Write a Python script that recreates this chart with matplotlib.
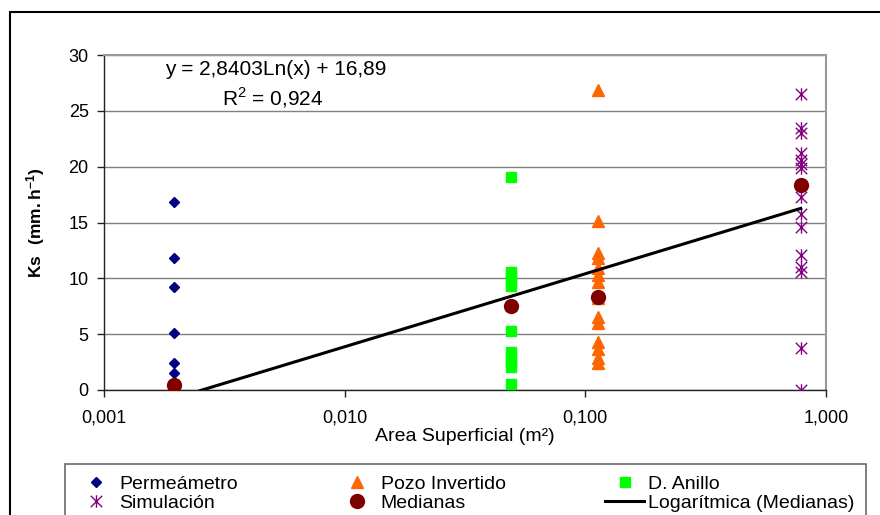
#!/usr/bin/env python3
"""Ks vs. area superficial, por método de medición, con tendencia logarítmica de medianas."""

import numpy as np
import matplotlib
matplotlib.use("Agg")
import matplotlib.pyplot as plt
from matplotlib.path import Path
from matplotlib.patches import Rectangle

plt.rcParams["font.family"] = ["Liberation Sans", "DejaVu Sans"]
plt.rcParams["mathtext.fontset"] = "custom"
plt.rcParams["mathtext.rm"] = "Liberation Sans"
plt.rcParams["mathtext.bf"] = "Liberation Sans:bold"

# area superficial (m2) de cada método
area_perm = 0.00196
area_anillo = 0.049
area_pozo = 0.113
area_sim = 0.785

ks_perm = [16.8, 11.85, 9.2, 5.1, 2.45, 1.5, 0.0]
ks_pozo = [26.9, 15.1, 12.3, 11.8, 10.9, 10.3, 9.7, 8.2, 6.5, 6.0, 4.3, 3.7, 2.9, 2.4]
ks_anillo = [19.1, 10.6, 10.2, 9.8, 9.3, 7.5, 5.3, 3.4, 2.9, 2.5, 2.1, 0.5]
ks_sim = [26.5, 23.5, 23.0, 21.2, 20.6, 20.2, 19.9, 17.3, 15.8, 14.6, 12.1, 11.0, 10.6, 3.8, 0.0]

med_area = [area_perm, area_anillo, area_pozo, area_sim]
med_ks = [0.45, 7.5, 8.3, 18.4]

x_ticks = [0.001, 0.01, 0.1, 1.0]
x_labels = ["0,001", "0,010", "0,100", "1,000"]
y_ticks = [0, 5, 10, 15, 20, 25, 30]

W, H = 880, 515
FS = 13
fig = plt.figure(figsize=(W / 100, H / 100), dpi=100)
ax = fig.add_axes([104 / W, 1 - 390 / H, (826 - 104) / W, (390 - 55) / H])

# asterisco estilo Excel: x con barra vertical
star = Path([(-1, -1), (1, 1), (-1, 1), (1, -1), (0, -1.1), (0, 1.1)],
            [Path.MOVETO, Path.LINETO, Path.MOVETO, Path.LINETO, Path.MOVETO, Path.LINETO])

h_perm, = ax.plot([area_perm] * len(ks_perm), ks_perm, ls="none", marker="D", ms=5.5,
                  color="#000080", label="Permeámetro", zorder=3)
h_pozo, = ax.plot([area_pozo] * len(ks_pozo), ks_pozo, ls="none", marker="^", ms=9,
                  color="#FF6600", mec="#FF6600", label="Pozo Invertido", zorder=3)
h_anillo, = ax.plot([area_anillo] * len(ks_anillo), ks_anillo, ls="none", marker="s", ms=7,
                    color="#00FF00", label="D. Anillo", zorder=3)
h_sim, = ax.plot([area_sim] * len(ks_sim), ks_sim, ls="none", marker=star, ms=9, mew=1,
                 color="#800080", label="Simulación", zorder=3)
h_med, = ax.plot(med_area, med_ks, ls="none", marker="o", ms=10,
                 color="#800000", label="Medianas", zorder=4)

# tendencia logarítmica ajustada a las medianas
slope, intercept = np.polyfit(np.log(med_area), med_ks, 1)
xs = np.logspace(np.log10(min(med_area)), np.log10(max(med_area)), 200)
h_log, = ax.plot(xs, slope * np.log(xs) + intercept, color="black", lw=2.2,
                 label="Logarítmica (Medianas)", zorder=3)

ax.set_xscale("log")
ax.set_xlim(0.001, 1.0)
ax.set_ylim(0, 30)
ax.set_xticks(x_ticks)
ax.set_xticklabels(x_labels)
ax.xaxis.set_minor_locator(plt.NullLocator())
ax.set_yticks(y_ticks)
ax.tick_params(axis="both", direction="out", length=5, width=1, labelsize=FS, color="#222")
ax.tick_params(axis="x", pad=9)
ax.tick_params(axis="y", pad=6)
ax.grid(axis="y", color="#808080", lw=1)
for side in ("top", "right"):
    ax.spines[side].set_color("#999999")
    ax.spines[side].set_linewidth(1.5)
for side in ("left", "bottom"):
    ax.spines[side].set_color("#222222")
    ax.spines[side].set_linewidth(1)
ax.set_axisbelow(True)

ax.set_xlabel("Area Superficial (m²)", fontsize=14, labelpad=1)
ax.set_ylabel(r"$\mathbf{Ks\ \ (mm.h^{-1})}$", fontsize=12.5)
ax.yaxis.set_label_coords(-(104 - 47) / (826 - 104), 0.5)

fig.text(165 / W, 1 - 70 / H, "y = 2,8403Ln(x) + 16,89", fontsize=15, va="center")
fig.text(222 / W, 1 - 98 / H, "R$^2$ = 0,924", fontsize=15, va="center")

# marco exterior del gráfico (recortado por el borde de la imagen)
fig.patches.append(Rectangle((10 / W, -0.2), 1.5, 1.2 - 12 / H, transform=fig.transFigure,
                             fill=False, ec="black", lw=1.5))

handles = [h_perm, h_sim, h_pozo, h_med, h_anillo, h_log]
leg = fig.legend(handles=handles, ncol=3, loc="upper left", mode="expand",
                 bbox_to_anchor=(65 / W, 0, (866 - 65) / W, 1 - 464 / H),
                 fontsize=14, frameon=True, fancybox=False, edgecolor="#444444",
                 borderpad=0.6, labelspacing=0.05, handlelength=2.0, handletextpad=0.2,
                 borderaxespad=0)
leg.get_frame().set_linewidth(1.2)

fig.savefig("out.png", dpi=100)
